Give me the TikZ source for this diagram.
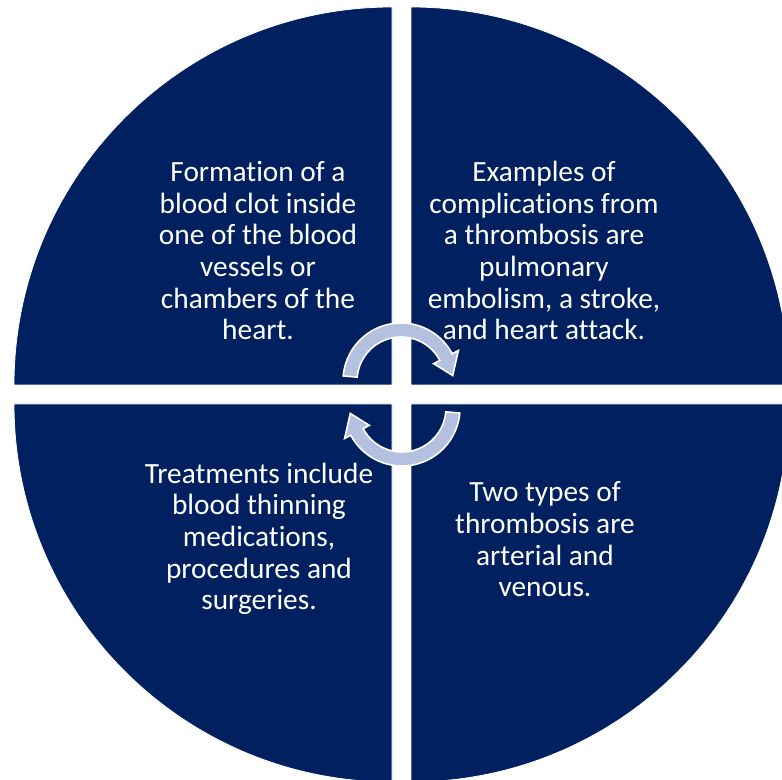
\documentclass[tikz,border=0pt]{standalone}
\usepackage{fontspec}
\setmainfont{Carlito}[Ligatures=NoCommon]
\usepackage{xcolor}
\definecolor{navy}{RGB}{0,32,96}
\definecolor{arrowblue}{RGB}{180,192,224}
\newcommand{\qsec}[3]{
\filldraw[fill=navy, draw=white, line width=0.6pt](#1,#2)--++(#3:378) arc[start angle=#3, end angle=#3+90, radius=378]--cycle;
}
\newcommand{\turnarrow}[1]{
\begin{scope}[shift={(401.5,385.5)}, rotate=#1, shift={(-0.5,13.5)}]
\filldraw[fill=arrowblue, draw=white, line width=1.2pt](175:58) arc[start angle=175, end angle=28, radius=58]--(28:65)--(6:52)--(28:37)--(28:44) arc[start angle=28, end angle=175, radius=44]--cycle;
\end{scope}
}
\tikzset{txt/.style={text=white, align=center, anchor=base, inner sep=0pt, font=\fontsize{22}{23.8}\selectfont}}

\begin{document}
\begin{tikzpicture}[x=0.75pt, y=0.75pt]
\useasboundingbox (0,0) rectangle (782,780);
\clip (0,0) rectangle (782,780);

\qsec{392}{395}{90}
\qsec{411}{395}{0}
\qsec{392}{376}{180}
\qsec{411}{376}{270}

\turnarrow{0}
\turnarrow{180}

% anchor=base is the last line
\node[txt] (clot) at (258,440) {Formation of a\\blood clot inside\\one of the blood\\vessels or\\chambers of the\\heart.};
\node[txt] (compl) at (544,440) {Examples of\\complications from\\a thrombosis are\\pulmonary\\embolism, a stroke,\\and heart attack.};
\node[txt] (treat) at (259,170) {Treatments include\\blood thinning\\medications,\\procedures and\\surgeries.};
\node[txt] (types) at (545,183) {Two types of\\thrombosis are\\arterial and\\venous.};

\end{tikzpicture}
\end{document}
